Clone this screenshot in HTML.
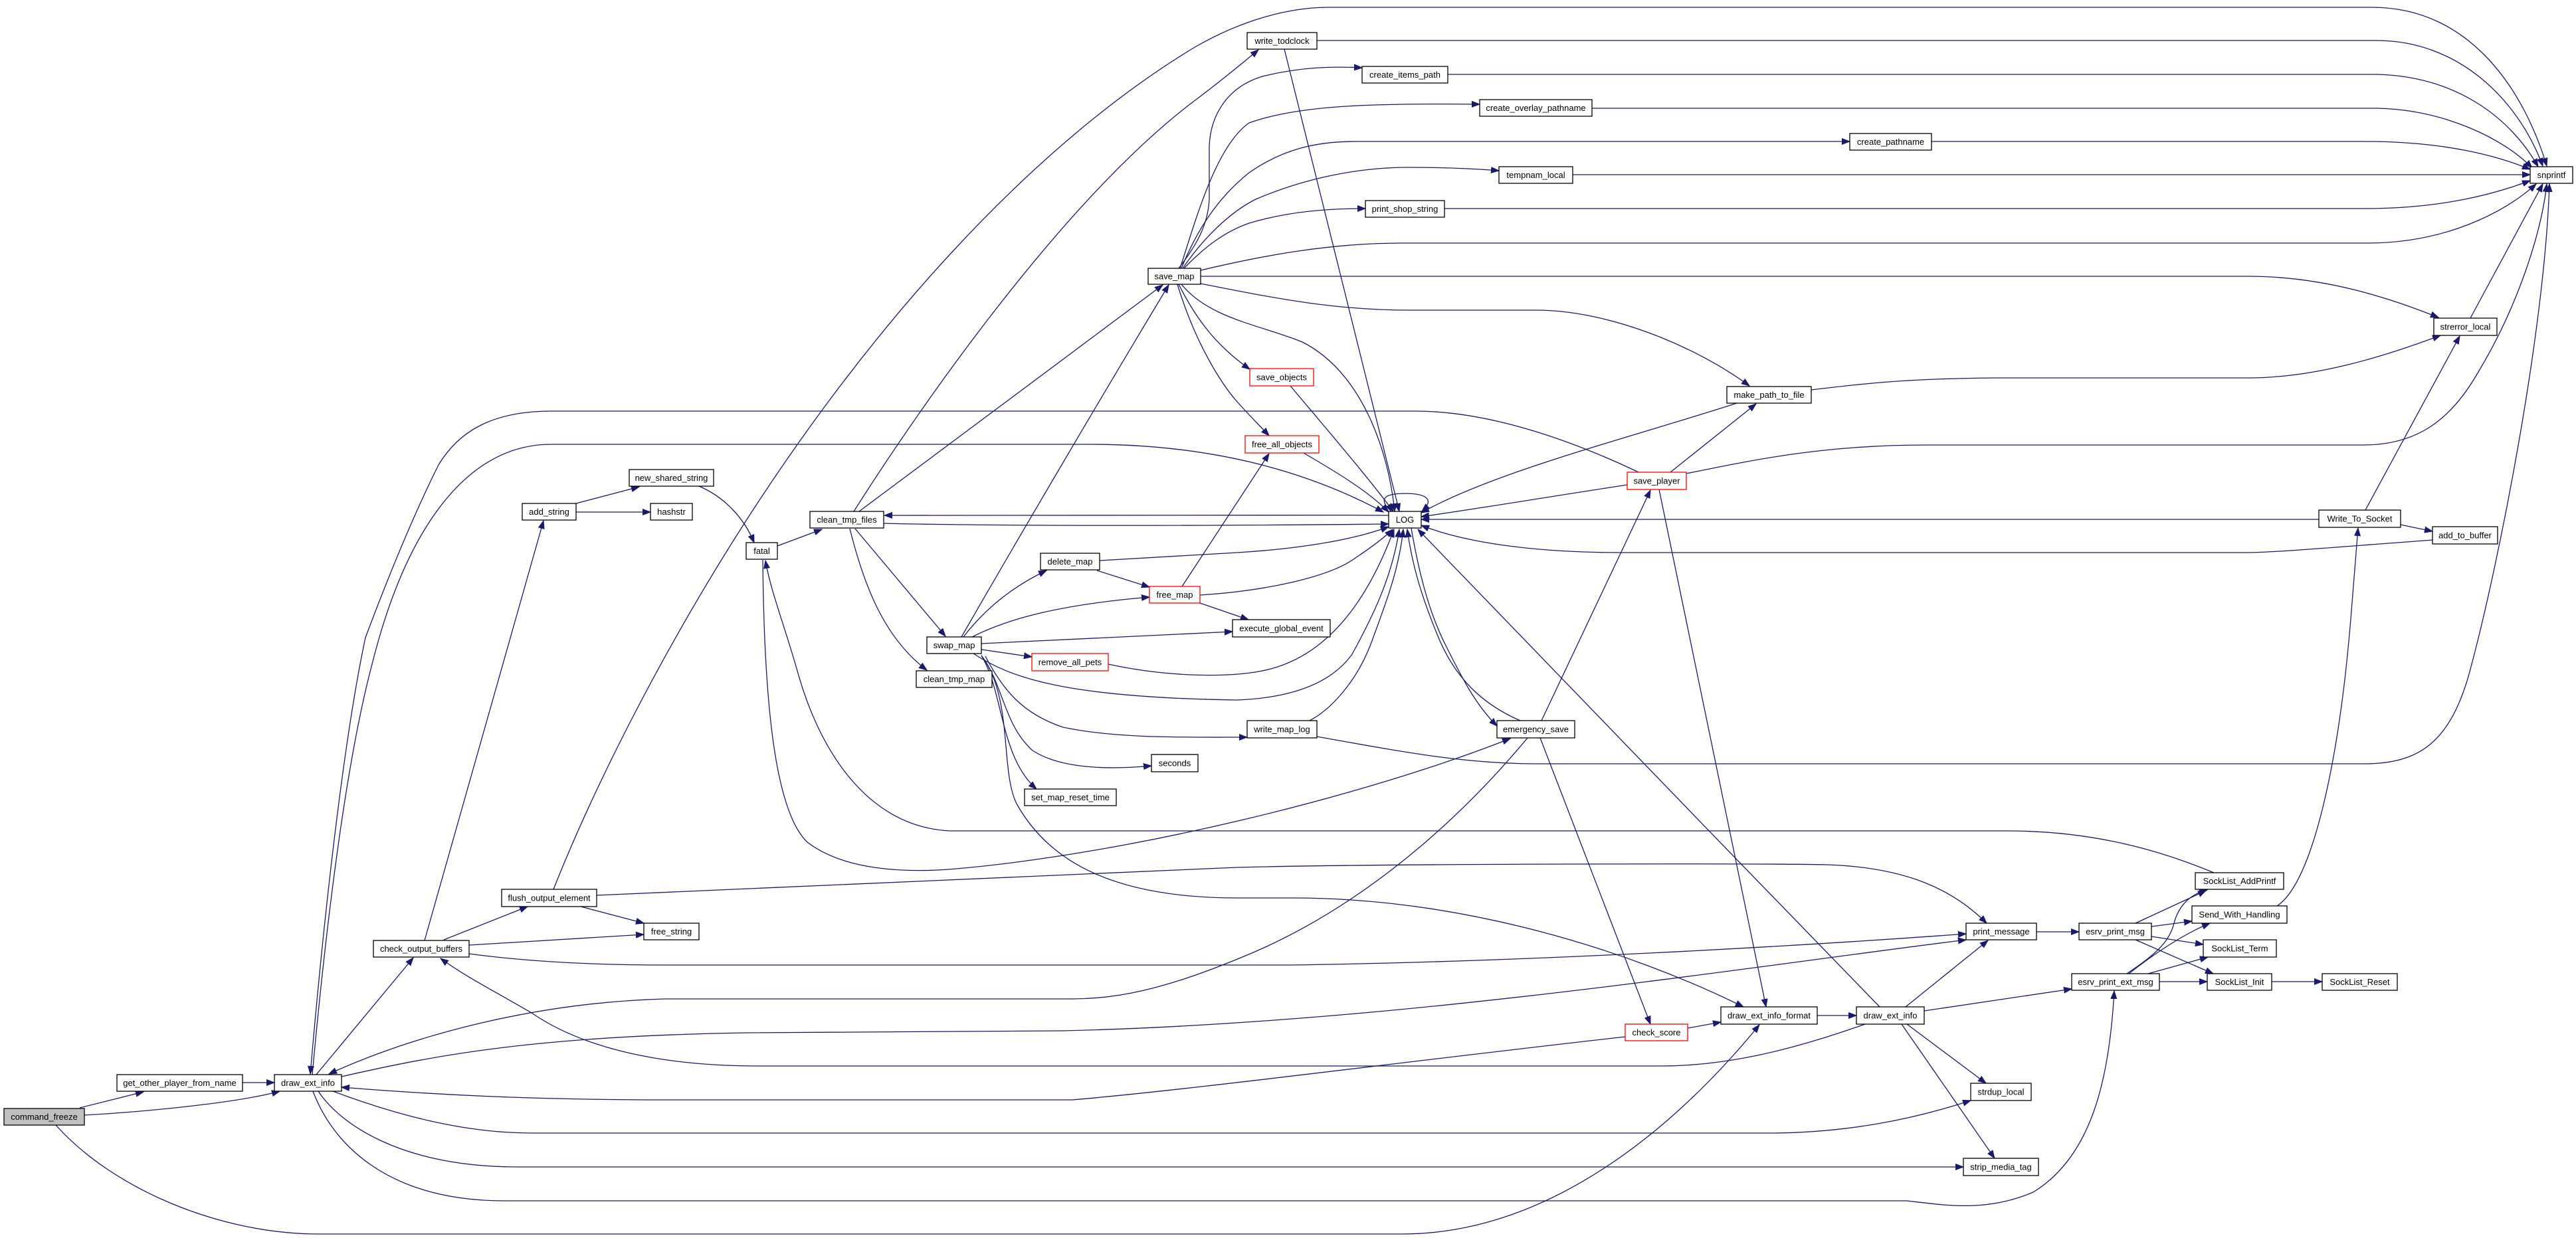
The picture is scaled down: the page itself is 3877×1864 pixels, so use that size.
<!DOCTYPE html>
<html><head><meta charset="utf-8"><style>
html,body{margin:0;padding:0;background:#fff;}
svg{display:block;}
text{font-family:"Liberation Sans",Arial,sans-serif;font-size:13px;fill:#000;text-anchor:middle;}
.e{fill:none;stroke:#191970;stroke-width:1.3;marker-end:url(#a);}
.n{fill:none;stroke:#191970;stroke-width:1.3;}
rect{fill:#fff;stroke:#000;stroke-width:1.3;}
rect.r{stroke:#ff0000;}
rect.g{fill:#bfbfbf;}
</style></head><body>
<svg width="3877" height="1864" viewBox="0 0 3877 1864" xmlns="http://www.w3.org/2000/svg">
<defs><marker id="a" markerUnits="userSpaceOnUse" markerWidth="13" markerHeight="10" refX="12" refY="5" orient="auto"><path d="M0,0.5 L12,5 L0,9.5 Z" fill="#191970" stroke="#191970" stroke-width="1"/></marker></defs>

<!-- edges -->
<path class="e" d="M120,1668 L216,1644"/>
<path class="e" d="M127,1679 C220,1674 360,1660 421,1643"/>
<path class="e" d="M84,1694 C170,1790 330,1858 480,1858 L2110,1858 C2330,1858 2520,1700 2648,1543"/>
<path class="e" d="M365,1630 L413,1630"/>
<path class="e" d="M476,1618 L622,1442"/>
<path class="e" d="M668,1415 L794,1365"/>
<path class="e" d="M639,1416 L818,784"/>
<path class="e" d="M706,1423 L969,1407"/>
<path class="e" d="M706,1436 C780,1446 880,1453 1000,1453 L1940,1453 C2300,1448 2700,1425 2959,1406"/>
<path class="e" d="M514,1621 C650,1590 800,1560 1126,1555 L1600,1552 C2100,1540 2600,1460 2959,1415"/>
<path class="e" d="M874,1365 L969,1390"/>
<path class="e" d="M898,1348 L1862,1306 C2100,1300 2650,1300 2750,1302 C2870,1306 2940,1340 2990,1390"/>
<path class="e" d="M833,1339 C900,1170 1000,980 1100,820 C1300,500 1550,220 1800,70 C1870,30 1940,11 2000,11 L3570,11 C3720,11 3800,140 3833,250"/>
<path class="e" d="M1285,770 C1380,620 1600,300 1800,150 C1840,120 1870,95 1894,75"/>
<path class="e" d="M1982,61 L3577,61 C3700,61 3790,150 3827,250"/>
<path class="e" d="M2179,112 L3577,112 C3700,115 3780,180 3820,251"/>
<path class="e" d="M2396,163 L3577,163 C3680,165 3770,210 3811,253"/>
<path class="e" d="M2907,213 L3560,213 C3680,213 3760,235 3808,255"/>
<path class="e" d="M2367,263 L3808,263"/>
<path class="e" d="M2174,314 L3560,314 C3680,314 3760,290 3808,272"/>
<path class="e" d="M1807,407 C1900,385 2000,366 2110,366 L3563,366 C3680,366 3770,320 3817,277"/>
<path class="e" d="M1807,416 L3384,416 C3500,416 3600,450 3670,478"/>
<path class="e" d="M1807,427 C1900,445 2000,467 2119,467 L2312,467 C2420,467 2550,520 2633,581"/>
<path class="e" d="M1778,428 C1820,480 1900,490 1960,515 C2050,560 2090,680 2099,770"/>
<path class="e" d="M1774,428 C1800,480 1830,520 1881,556"/>
<path class="e" d="M1772,428 C1800,520 1840,580 1862,605 C1880,625 1895,640 1910,656"/>
<path class="e" d="M1774,404 C1800,370 1818,340 1820,300 L1820,220 C1822,170 1850,130 1900,115 C1960,100 2010,100 2050,102"/>
<path class="e" d="M1776,404 C1800,330 1830,220 1880,185 C1950,160 2050,155 2227,157"/>
<path class="e" d="M1778,404 C1800,350 1830,300 1880,260 C1930,225 1980,213 2040,213 L2784,213"/>
<path class="e" d="M1780,404 C1810,360 1850,320 1890,300 C1960,270 2040,252 2120,252 C2170,252 2220,254 2256,257"/>
<path class="e" d="M1782,404 C1810,375 1840,350 1880,336 C1940,318 2000,314 2055,314"/>
<path class="e" d="M1293,770 L1750,429"/>
<path class="e" d="M1447,959 C1550,780 1680,560 1759,429"/>
<path class="e" d="M1170,822 L1237,797"/>
<path class="e" d="M1052,732 C1090,748 1120,780 1135,817"/>
<path class="e" d="M867,758 L962,733"/>
<path class="e" d="M867,771 L979,771"/>
<path class="e" d="M1287,796 L1423,958"/>
<path class="e" d="M1279,796 C1300,880 1330,960 1395,1009"/>
<path class="e" d="M2090,776 C1800,774 1500,774 1331,776"/>
<path class="e" d="M1330,788 C1500,792 1800,792 2090,789"/>
<path class="e" d="M1148,843 C1150,1050 1165,1220 1215,1268 C1270,1310 1360,1315 1440,1308 C1700,1285 2050,1200 2273,1112"/>
<path class="e" d="M3332,1314 C3250,1280 3150,1251 3020,1251 L1430,1251 C1300,1245 1230,1120 1200,1010 C1180,940 1160,890 1152,844"/>
<path class="e" d="M1450,959 C1480,920 1520,885 1575,859"/>
<path class="e" d="M1463,959 C1520,930 1600,910 1730,899"/>
<path class="e" d="M1651,859 L1730,884"/>
<path class="e" d="M1655,844 L1862,832 C1960,826 2040,812 2090,793"/>
<path class="e" d="M1806,896 C1900,890 2000,870 2040,840 C2070,820 2085,808 2096,797"/>
<path class="e" d="M1779,883 L1910,683"/>
<path class="e" d="M1806,908 L1879,933"/>
<path class="e" d="M1477,969 L1855,951"/>
<path class="e" d="M1477,978 L1553,989"/>
<path class="e" d="M1668,1000 C1760,1020 1850,1020 1900,1010 C2000,990 2060,900 2098,797"/>
<path class="e" d="M1465,984 C1520,1020 1600,1050 1862,1054 C1960,1050 2010,1020 2035,985 C2065,930 2095,870 2106,797"/>
<path class="e" d="M1483,988 C1510,1040 1540,1075 1600,1095 C1680,1112 1780,1110 1877,1110"/>
<path class="e" d="M1971,1085 C2000,1070 2040,1030 2063,970 C2085,910 2105,860 2112,797"/>
<path class="e" d="M1982,1109 C2100,1130 2200,1150 2312,1150 L3557,1150 C3640,1150 3690,1120 3720,1000 C3760,850 3830,500 3837,277"/>
<path class="e" d="M1477,987 C1510,1030 1510,1090 1554,1130 C1600,1160 1680,1158 1733,1153"/>
<path class="e" d="M1477,987 C1510,1040 1505,1140 1560,1188"/>
<path class="e" d="M1477,987 C1525,1050 1505,1160 1530,1210 C1580,1300 1680,1352 1862,1352 L1946,1352 C2200,1352 2450,1430 2624,1516"/>
<path class="e" d="M2288,1085 C2230,1060 2190,1020 2165,960 C2140,900 2125,850 2118,797"/>
<path class="e" d="M2124,795 C2135,860 2150,920 2175,970 C2200,1020 2220,1060 2253,1093"/>
<path class="e" d="M2320,1085 L2484,738"/>
<path class="e" d="M2318,1111 L2484,1542"/>
<path class="e" d="M2299,1111 C2200,1230 2050,1370 1860,1445 C1750,1490 1680,1504 1614,1504 L1000,1504 C800,1510 620,1560 495,1617"/>
<path class="e" d="M2540,1548 L2590,1539"/>
<path class="e" d="M2446,1561 C2100,1600 1800,1640 1614,1656 L1000,1656 C800,1656 650,1648 514,1637"/>
<path class="e" d="M2735,1529 L2794,1529"/>
<path class="e" d="M2829,1516 C2600,1280 2300,970 2134,797"/>
<path class="e" d="M2497,737 L2658,1516"/>
<path class="e" d="M2807,1542 C2700,1580 2600,1605 2500,1605 L1140,1605 C1000,1605 880,1580 800,1525 C740,1490 700,1470 663,1443"/>
<path class="e" d="M2868,1516 L2992,1416"/>
<path class="e" d="M2896,1522 L3118,1489"/>
<path class="e" d="M2870,1542 L2989,1631"/>
<path class="e" d="M2862,1542 L3002,1744"/>
<path class="e" d="M501,1643 C600,1680 700,1706 800,1706 L2660,1706 C2780,1706 2880,1685 2966,1657"/>
<path class="e" d="M479,1643 C510,1690 600,1757 780,1757 L2955,1757"/>
<path class="e" d="M471,1643 C500,1720 580,1808 760,1808 L2870,1808 C2930,1815 2990,1825 3060,1795 C3150,1740 3175,1620 3182,1492"/>
<path class="e" d="M3065,1403 L3129,1403"/>
<path class="e" d="M3214,1390 L3320,1341"/>
<path class="e" d="M3238,1395 L3299,1387"/>
<path class="e" d="M3238,1410 L3316,1422"/>
<path class="e" d="M3214,1415 L3331,1466"/>
<path class="e" d="M3201,1466 C3240,1440 3265,1420 3272,1390 C3280,1360 3300,1345 3322,1340"/>
<path class="e" d="M3204,1466 C3250,1430 3290,1405 3326,1390"/>
<path class="e" d="M3233,1466 L3323,1441"/>
<path class="e" d="M3250,1478 L3322,1478"/>
<path class="e" d="M3419,1478 L3495,1478"/>
<path class="e" d="M3427,1364 C3480,1330 3520,1150 3538,932 C3542,880 3546,830 3549,795"/>
<path class="e" d="M3613,790 L3661,800"/>
<path class="e" d="M3560,768 L3702,506"/>
<path class="e" d="M3490,782 L2139,782"/>
<path class="e" d="M3661,813 C3500,825 3420,832 3380,832 L2440,832 C2300,832 2200,815 2139,791"/>
<path class="e" d="M2726,587 C2800,578 2870,570 3000,569 L3384,569 C3480,569 3580,540 3673,505"/>
<path class="e" d="M2614,607 C2450,660 2250,710 2139,772"/>
<path class="e" d="M2514,711 L2643,608"/>
<path class="e" d="M2538,713 C2650,690 2750,670 2900,670 L3557,670 C3640,670 3690,630 3730,560 C3790,460 3825,350 3833,277"/>
<path class="e" d="M2449,730 C2350,745 2230,765 2139,778"/>
<path class="e" d="M2466,711 C2380,670 2250,619 2130,619 L830,619 C740,619 690,650 660,700 C620,780 580,880 550,960 C520,1100 490,1350 467,1617"/>
<path class="e" d="M470,1618 C490,1400 520,1150 560,1000 C610,800 700,669 830,669 L1640,669 C1800,669 1950,700 2082,771"/>
<path class="e" d="M1942,581 C2000,650 2060,720 2097,770"/>
<path class="e" d="M1962,682 C2010,710 2060,740 2090,771"/>
<path class="e" d="M1933,74 L2106,770"/>
<path class="e" d="M2094,770 C2070,748 2090,743 2115,743 C2142,743 2162,750 2140,770"/>
<path class="e" d="M3718,479 L3827,277"/>

<!-- nodes -->
<rect class="g" x="6" y="1669" width="121" height="25"/><text x="66.5" y="1686">command_freeze</text>
<rect x="176" y="1618" width="189" height="25"/><text x="270.5" y="1635">get_other_player_from_name</text>
<rect x="413" y="1618" width="101" height="25"/><text x="463.5" y="1635">draw_ext_info</text>
<rect x="562" y="1416" width="144" height="25"/><text x="634" y="1433">check_output_buffers</text>
<rect x="755" y="1339" width="143" height="26"/><text x="826.5" y="1356.5">flush_output_element</text>
<rect x="786" y="758" width="81" height="25"/><text x="826.5" y="775">add_string</text>
<rect x="947" y="707" width="127" height="25"/><text x="1010.5" y="724">new_shared_string</text>
<rect x="979" y="758" width="63" height="25"/><text x="1010.5" y="775">hashstr</text>
<rect x="1123" y="817" width="47" height="25"/><text x="1146.5" y="834">fatal</text>
<rect x="969" y="1390" width="83" height="25"/><text x="1010.5" y="1407">free_string</text>
<rect x="1219" y="770" width="111" height="25"/><text x="1274.5" y="787">clean_tmp_files</text>
<rect x="1728" y="404" width="79" height="24"/><text x="1767.5" y="420.5">save_map</text>
<rect x="1566" y="833" width="89" height="25"/><text x="1610.5" y="850">delete_map</text>
<rect class="r" x="1730" y="883" width="76" height="25"/><text x="1768" y="900">free_map</text>
<rect x="1395" y="959" width="82" height="25"/><text x="1436" y="976">swap_map</text>
<rect x="1379" y="1010" width="114" height="25"/><text x="1436" y="1027">clean_tmp_map</text>
<rect class="r" x="1553" y="984" width="115" height="26"/><text x="1610.5" y="1001.5">remove_all_pets</text>
<rect x="1733" y="1136" width="70" height="26"/><text x="1768" y="1153.5">seconds</text>
<rect x="1542" y="1188" width="138" height="25"/><text x="1611" y="1205">set_map_reset_time</text>
<rect x="1855" y="933" width="147" height="26"/><text x="1928.5" y="950.5">execute_global_event</text>
<rect x="1877" y="1085" width="105" height="26"/><text x="1929.5" y="1102.5">write_map_log</text>
<rect x="2253" y="1085" width="117" height="26"/><text x="2311.5" y="1102.5">emergency_save</text>
<rect class="r" x="2446" y="1542" width="94" height="25"/><text x="2493" y="1559">check_score</text>
<rect x="2590" y="1516" width="145" height="26"/><text x="2662.5" y="1533.5">draw_ext_info_format</text>
<rect x="2794" y="1516" width="102" height="26"/><text x="2845" y="1533.5">draw_ext_info</text>
<rect x="1877" y="49" width="105" height="25"/><text x="1929.5" y="66">write_todclock</text>
<rect x="2050" y="100" width="129" height="25"/><text x="2114.5" y="117">create_items_path</text>
<rect x="2227" y="150" width="169" height="25"/><text x="2311.5" y="167">create_overlay_pathname</text>
<rect x="2784" y="201" width="123" height="25"/><text x="2845.5" y="218">create_pathname</text>
<rect x="2256" y="251" width="111" height="25"/><text x="2311.5" y="268">tempnam_local</text>
<rect x="2055" y="302" width="119" height="25"/><text x="2114.5" y="319">print_shop_string</text>
<rect class="r" x="1881" y="555" width="96" height="26"/><text x="1929" y="572.5">save_objects</text>
<rect class="r" x="1874" y="656" width="111" height="26"/><text x="1929.5" y="673.5">free_all_objects</text>
<rect x="2599" y="582" width="127" height="25"/><text x="2662.5" y="599">make_path_to_file</text>
<rect class="r" x="2449" y="711" width="89" height="26"/><text x="2493.5" y="728.5">save_player</text>
<rect x="2090" y="770" width="49" height="25"/><text x="2114.5" y="787">LOG</text>
<rect x="3808" y="251" width="64" height="25"/><text x="3840" y="268">snprintf</text>
<rect x="3663" y="479" width="95" height="26"/><text x="3710.5" y="496.5">strerror_local</text>
<rect x="3490" y="768" width="123" height="26"/><text x="3551.5" y="785.5">Write_To_Socket</text>
<rect x="3661" y="793" width="98" height="26"/><text x="3710" y="810.5">add_to_buffer</text>
<rect x="3304" y="1314" width="133" height="25"/><text x="3370.5" y="1331">SockList_AddPrintf</text>
<rect x="3299" y="1364" width="143" height="26"/><text x="3370.5" y="1381.5">Send_With_Handling</text>
<rect x="3316" y="1415" width="110" height="26"/><text x="3371" y="1432.5">SockList_Term</text>
<rect x="3322" y="1466" width="97" height="25"/><text x="3370.5" y="1483">SockList_Init</text>
<rect x="3495" y="1466" width="113" height="25"/><text x="3551.5" y="1483">SockList_Reset</text>
<rect x="2959" y="1390" width="106" height="25"/><text x="3012" y="1407">print_message</text>
<rect x="3129" y="1390" width="109" height="25"/><text x="3183.5" y="1407">esrv_print_msg</text>
<rect x="3118" y="1466" width="132" height="25"/><text x="3184" y="1483">esrv_print_ext_msg</text>
<rect x="2966" y="1631" width="91" height="26"/><text x="3011.5" y="1648.5">strdup_local</text>
<rect x="2955" y="1744" width="113" height="26"/><text x="3011.5" y="1761.5">strip_media_tag</text>
</svg>
</body></html>
